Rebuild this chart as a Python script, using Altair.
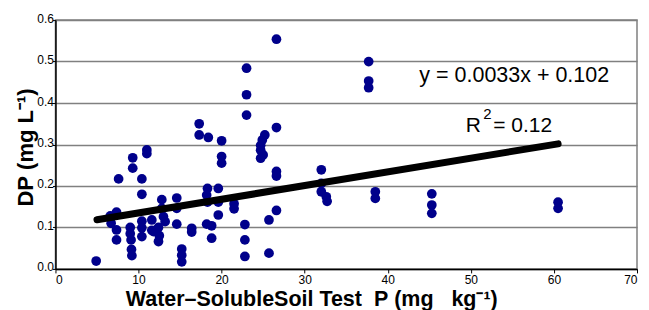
import altair as alt
import pandas as pd

# Scatter data
soil_p = [4.9,
          6.6, 6.7, 7.35, 7.35, 7.35, 7.6,
          9.0, 9.0, 9.1, 9.15, 9.2, 9.3, 9.3,
          10.4, 10.4, 10.4, 10.4, 10.4,
          11.0, 11.0, 11.6, 11.6,
          11.8, 12.4, 12.5, 12.8, 12.8, 13.0, 13.2, 12.4,
          14.6, 14.6, 14.6,
          15.2, 15.2, 15.2,
          16.4, 16.4,
          17.3, 17.3, 18.4,
          18.3, 18.2, 18.3, 18.2, 18.8, 18.8,
          19.6, 19.6, 19.6, 20.0, 20.0, 20.0,
          21.5, 21.5,
          22.8, 22.8, 22.8, 23.0, 23.0, 23.0,
          25.2, 24.9, 24.7, 24.7, 25.0, 24.7,
          25.7, 25.7,
          26.6, 26.6, 26.6, 26.6, 26.6,
          32.0, 32.0, 32.0, 32.6, 32.7,
          37.7, 37.7, 37.7,
          38.5, 38.5,
          45.3, 45.3, 45.3,
          60.5, 60.5]
dp = [0.019,
      0.128, 0.110, 0.137, 0.094, 0.070, 0.217,
      0.100, 0.085, 0.070, 0.047, 0.032, 0.268, 0.243,
      0.217, 0.180, 0.115, 0.099, 0.078,
      0.287, 0.278, 0.093, 0.118,
      0.090, 0.066, 0.080, 0.167, 0.146, 0.126, 0.114, 0.100,
      0.171, 0.146, 0.108,
      0.048, 0.033, 0.017,
      0.098, 0.089,
      0.350, 0.323, 0.317,
      0.194, 0.178, 0.161, 0.108, 0.104, 0.074,
      0.194, 0.161, 0.130, 0.309, 0.271, 0.255,
      0.157, 0.145,
      0.107, 0.070, 0.030, 0.484, 0.420, 0.371,
      0.323, 0.311, 0.298, 0.286, 0.275, 0.267,
      0.118, 0.038,
      0.554, 0.341, 0.235, 0.224, 0.141,
      0.239, 0.206, 0.186, 0.174, 0.163,
      0.500, 0.453, 0.437,
      0.186, 0.170,
      0.181, 0.154, 0.134,
      0.161, 0.146]

# Regression: y = 0.0033x + 0.102, drawn over the data range
slope = 0.0033
intercept = 0.102
fit_x = [5.0, 60.5]

eq_text = ["y = 0.0033x + 0.102"]
r2_parts = ["R", "2", "= 0.12"]

pts = pd.DataFrame({"x": soil_p, "y": dp})
fit = pd.DataFrame({"x": fit_x, "y": [slope * v + intercept for v in fit_x]})

FONT = "Liberation Sans"
NB = "\u00a0"

xscale = alt.Scale(domain=[0, 70], nice=False, zero=False)
yscale = alt.Scale(domain=[0, 0.6], nice=False)

x_title = ("Water\u2013SolubleSoil" + NB + "Test" + NB + NB + "P" + NB + "(mg"
           + NB + NB + NB + "kg\u207b\u00b9)")

xax = alt.Axis(values=[0, 10, 20, 30, 40, 50, 60, 70], grid=False,
               domainColor="black", domainWidth=1.5, tickColor="black",
               tickSize=4, labelPadding=2, labelFont=FONT, labelFontSize=12,
               labelColor="black",
               title=x_title,
               titleFont=FONT, titleFontSize=21.5, titleFontWeight="bold",
               titleColor="black", titleX=256, titleY=37,
               titleBaseline="alphabetic", titleAnchor="middle", titleAlign="center")
yax = alt.Axis(values=[0, 0.1, 0.2, 0.3, 0.4, 0.5, 0.6], format=".1f",
               grid=True, gridColor="#808080", gridWidth=1.5,
               domainColor="black", domainWidth=1.5, tickColor="black",
               tickSize=3, labelPadding=-1, labelFont=FONT, labelFontSize=12,
               labelColor="black", labelOffset=-2,
               title="DP" + NB + "(mg" + NB + "L\u207b\u00b9)", titleFont=FONT,
               titleFontSize=22, titleFontWeight="bold", titleColor="black",
               titleX=-30, titleY=127, titleAngle=-90,
               titleAlign="center", titleBaseline="middle")

points = alt.Chart(pts).mark_circle(size=95, color="#00008B", opacity=1).encode(
    x=alt.X("x:Q", scale=xscale, axis=xax),
    y=alt.Y("y:Q", scale=yscale, axis=yax),
)

line = alt.Chart(fit).mark_line(color="black", strokeWidth=7, strokeCap="round").encode(
    x=alt.X("x:Q", scale=xscale),
    y=alt.Y("y:Q", scale=yscale),
)

eq = alt.Chart(pd.DataFrame({"t": eq_text, "x": [43.8], "y": [0.45]})).mark_text(
    font=FONT, fontSize=21.5, align="left", baseline="alphabetic", color="black"
).encode(x=alt.X("x:Q", scale=xscale), y=alt.Y("y:Q", scale=yscale), text="t:N")

r2_df = pd.DataFrame({"t": r2_parts, "x": [49.4, 51.5, 52.7],
                      "y": [0.33, 0.362, 0.33], "s": [21, 15, 21]})
r2 = alt.Chart(r2_df).mark_text(
    font=FONT, align="left", baseline="alphabetic", color="black"
).encode(x=alt.X("x:Q", scale=xscale), y=alt.Y("y:Q", scale=yscale), text="t:N",
         size=alt.Size("s:Q", scale=None, legend=None))

chart = alt.layer(points, line, eq, r2).properties(
    width=582, height=249,
    autosize=alt.AutoSizeParams(type="none"),
    padding={"left": 47.5, "top": 12, "right": 4, "bottom": 41},
).configure_view(stroke="#808080", strokeWidth=1.5)

chart.save("out.html", embed_options={"renderer": "svg", "actions": False})
